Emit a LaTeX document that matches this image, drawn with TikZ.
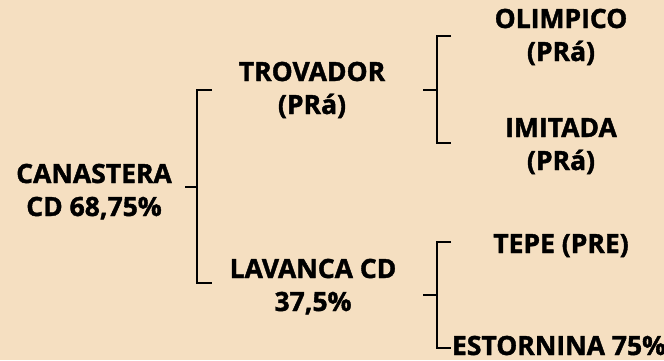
\documentclass[tikz,border=0pt]{standalone}
\usepackage{fontspec}
\setmainfont{Open Sans}[BoldFeatures={FakeBold=1.5}]
\definecolor{paper}{HTML}{F5DFC1}
\begin{document}
\begin{tikzpicture}[
  x=1pt, y=-1pt,
  every node/.style={font=\fontsize{26.5}{33}\selectfont\bfseries},
  bird/.style={align=center, anchor=base, inner sep=0pt},
  bracket/.style={line width=2.3pt}
]
\fill[paper] (0,0) rectangle (664,360);
\useasboundingbox (0,0) rectangle (664,360);
% names
\node[bird] (canastera) at (94,216) {CANASTERA\\CD 68,75\%};
\node[bird] (trovador) at (312,114) {TROVADOR\\(PRá)};
\node[bird] (lavanca) at (313,311) {LAVANCA CD\\37,5\%};
\node[bird] (olimpico) at (561,61) {OLIMPICO\\(PRá)};
\node[bird] (imitada) at (561,170) {IMITADA\\(PRá)};
\node[bird] (tepe) at (561,253) {TEPE (PRE)};
\node[bird] (estornina) at (559,355) {ESTORNINA 75\%};
% bracket points
\coordinate (c1) at (185,187);
\coordinate (c2) at (423,90);
\coordinate (c3) at (423,295);
\draw[bracket] (c1) -- (197,187);
\draw[bracket] (212,90) -- (197,90) -- (197,283) -- (212,283);
\draw[bracket] (c2) -- (437,90);
\draw[bracket] (451,36) -- (437,36) -- (437,143) -- (451,143);
\draw[bracket] (c3) -- (437,295);
\draw[bracket] (451,242) -- (437,242) -- (437,348) -- (451,348);
\end{tikzpicture}
\end{document}
